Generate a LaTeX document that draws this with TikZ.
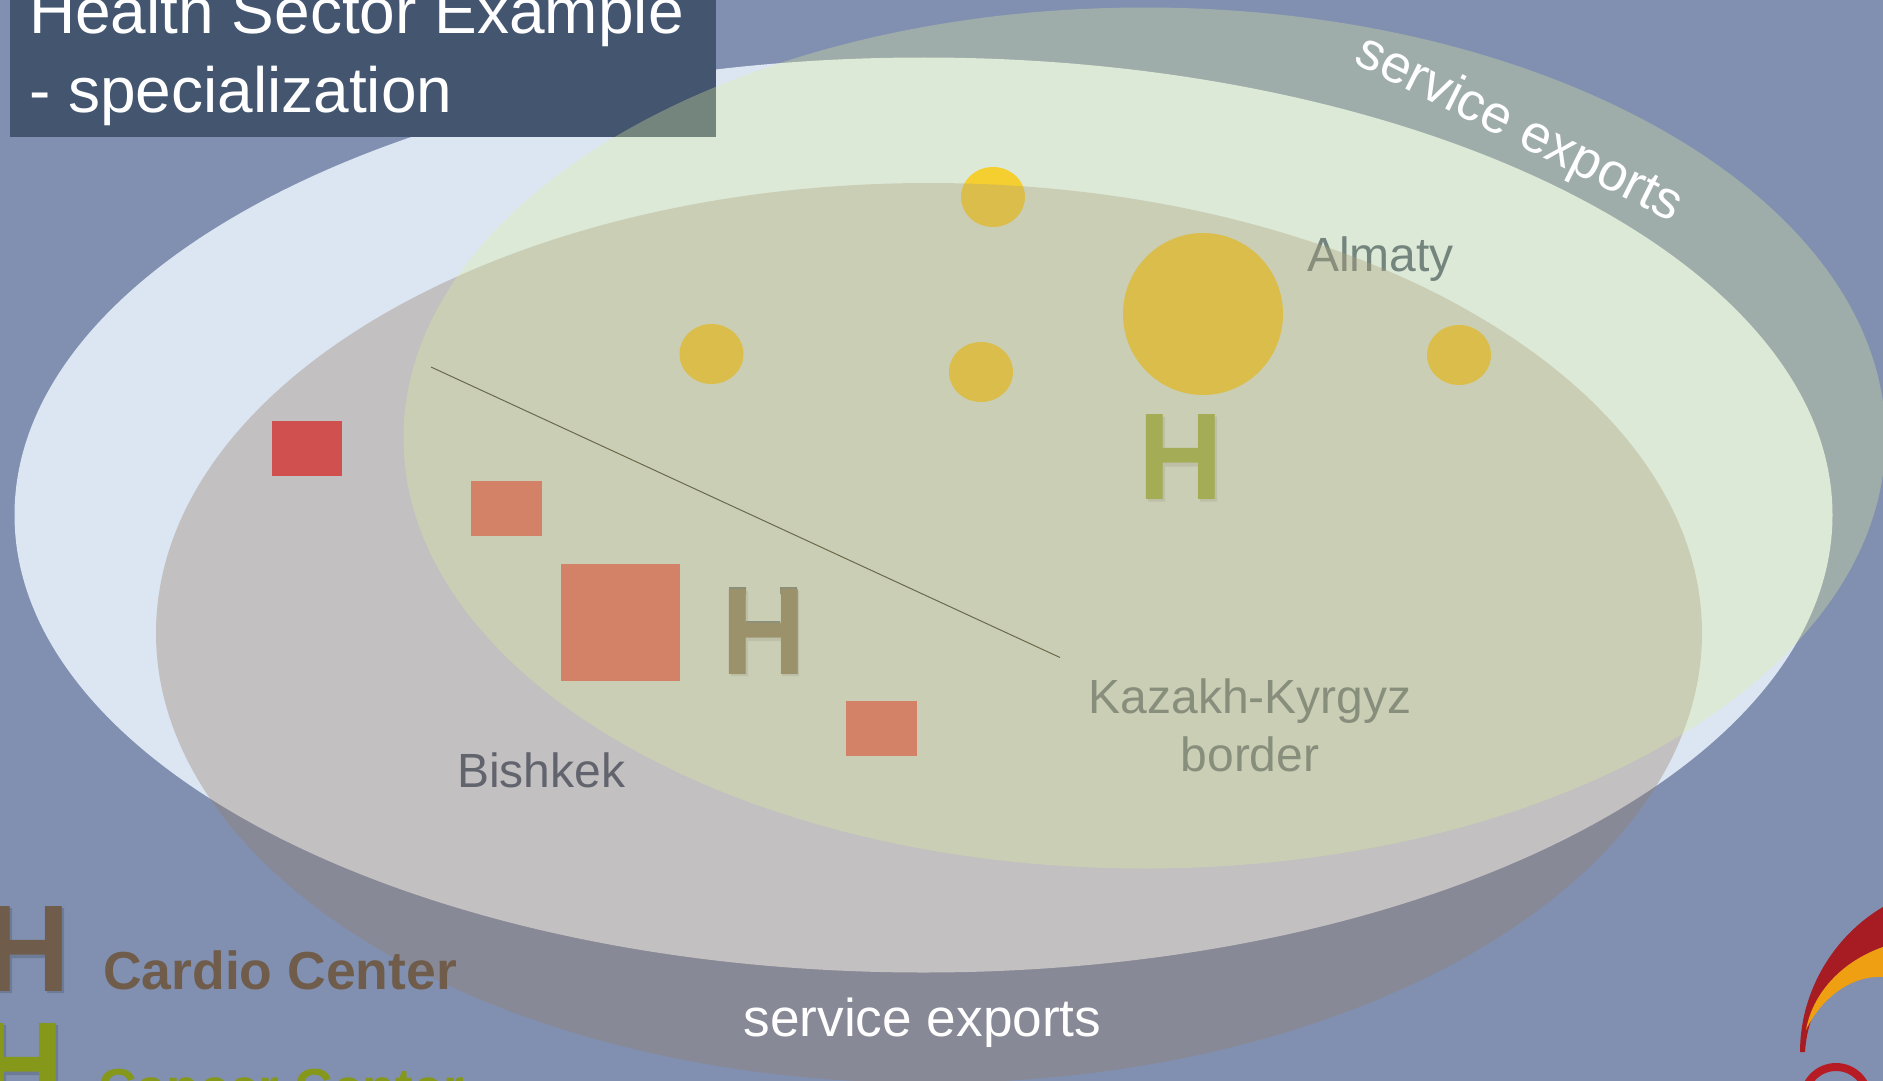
\documentclass[tikz,border=0pt]{standalone}
\usepackage{fontspec}
\setmainfont{Liberation Sans}
\definecolor{slate}{RGB}{68,85,112}
\definecolor{pagebg}{RGB}{129,144,176}
\definecolor{cardio}{RGB}{112,92,74}
\definecolor{cancer}{RGB}{133,152,25}
\definecolor{logored}{RGB}{166,28,34}
\tikzstyle{label} = [text=slate, inner sep=0pt, font=\fontsize{48}{58}\selectfont]
\tikzstyle{whitetext} = [text=white, inner sep=0pt, font=\fontsize{53.2}{53}\selectfont]
\tikzstyle{titletext} = [text=white, inner sep=0pt, align=left, font=\fontsize{64}{78}\selectfont]
\tikzstyle{bigH} = [inner sep=0pt, anchor=base west, xscale=0.95, font=\fontsize{123.5}{124}\selectfont\bfseries]
\tikzstyle{legendtext} = [inner sep=0pt, anchor=base west, font=\fontsize{53.5}{54}\selectfont\bfseries]
\tikzstyle{dot} = [fill={rgb,255:red,255;green,192;blue,0}]
\tikzstyle{hospital} = [fill={rgb,255:red,240;green,56;blue,64}]
\tikzstyle{hshadow} = [fill=black, opacity=0.14]
\tikzstyle{hband} = [fill={rgb,255:red,81;green,89;blue,105}]
\tikzstyle{lowerzone} = [fill={rgb,255:red,150;green,125;blue,106}, opacity=0.36]
\tikzstyle{upperzone} = [fill={rgb,255:red,223;green,240;blue,158}, opacity=0.31]
\begin{document}
\begin{tikzpicture}[x=1pt, y=-1pt]
	\useasboundingbox (0,0) rectangle (1883,1081);
	\clip (0,0) rectangle (1883,1081);
	\fill[pagebg] (0,0) rectangle (1883,1081);
	\fill[fill={rgb,255:red,220;green,230;blue,242}] (923.5,515) ellipse (909 and 457.5);

	% title
	\fill[slate] (10,-40) rectangle (716,137);
	\node[titletext, anchor=base west] (title) at (29,112) {Health Sector Example\\- specialization};

	% labels stay under the two zones
	\node[label, anchor=base west] (almaty) at (1307,271) {Almaty};
	\node[label, anchor=base west] (bishkek) at (457,787) {Bishkek};
	\node[label, anchor=base, align=center] (border) at (1250,771.5) {Kazakh-Kyrgyz\\border};
	\coordinate (borderstart) at (431,367);
	\coordinate (borderend) at (1060,657.5);
	\draw[black, line width=1pt] (borderstart) -- (borderend);

	\fill[dot] (993,197) ellipse (32 and 30);
	\fill[dot] (711.5,354) ellipse (32 and 30);
	\fill[dot] (981,372) ellipse (32 and 30);
	\fill[dot] (1203,314) ellipse (80 and 81);
	\fill[dot] (1459,355) ellipse (32 and 30);

	\fill[hospital] (272,421) rectangle (342,476);
	\fill[hospital] (471,481) rectangle (542,536);
	\fill[hospital] (561,564) rectangle (680,680.5);
	\fill[hospital] (846,701) rectangle (917,756);

	\fill[hshadow, shift={(1148,501.5)}] (0,0) rectangle (17,-85) (52,0) rectangle (69,-85) (17,-35) rectangle (52,-49);
	\node[bigH, text=cancer] (almatyH) at (1138,499.5) {H};
	\fill[hshadow, shift={(731,676)}] (0,0) rectangle (17,-85) (51,0) rectangle (68,-85) (17,-35) rectangle (51,-49);
	\fill[hband, shift={(729,674)}] (0,-80) rectangle (17,-87) (51,-80) rectangle (68,-87) (17,-45) rectangle (51,-53);
	\node[bigH, text=cardio] (bishkekH) at (721,674) {H};

	\fill[lowerzone] (929,633) ellipse (773 and 450);
	\fill[upperzone] (1144.5,438) ellipse (741 and 430.5);

	% legend
	\fill[hshadow, shift={(-5,993)}] (0,0) rectangle (17,-85) (52,0) rectangle (69,-85) (17,-35) rectangle (52,-49);
	\node[bigH, text=cardio] (cardioH) at (-14.8,991) {H};
	\node[legendtext, text=cardio] (cardiotext) at (103,989.5) {Cardio Center};
	\fill[hshadow, shift={(-11,1110)}] (0,0) rectangle (17,-85) (52,0) rectangle (69,-85) (17,-35) rectangle (52,-49);
	\node[bigH, text=cancer] (cancerH) at (-20.8,1108) {H};
	\node[legendtext, text=cancer] (cancertext) at (98,1106) {Cancer Center};

	\node[whitetext, anchor=base] (lowerexports) at (922.5,1036) {service exports};
	\node[whitetext, anchor=center, rotate=-26.5] (upperexports) at (1518.5,130) {service exports};

	% logo
	\fill[logored] (1800,1052) .. controls (1800,990) and (1835,935) .. (1883,907) -- (1883,947) .. controls (1835,965) and (1808,1005) .. (1805,1052) -- cycle;
	\fill[fill={rgb,255:red,238;green,159;blue,18}] (1806,1030) .. controls (1812,995) and (1840,962) .. (1883,947) -- (1883,977) .. controls (1850,975) and (1820,1000) .. (1806,1030) -- cycle;
	\draw[draw={rgb,255:red,183;green,28;blue,36}, line width=8pt] (1836,1099) circle (32);
\end{tikzpicture}
\end{document}
